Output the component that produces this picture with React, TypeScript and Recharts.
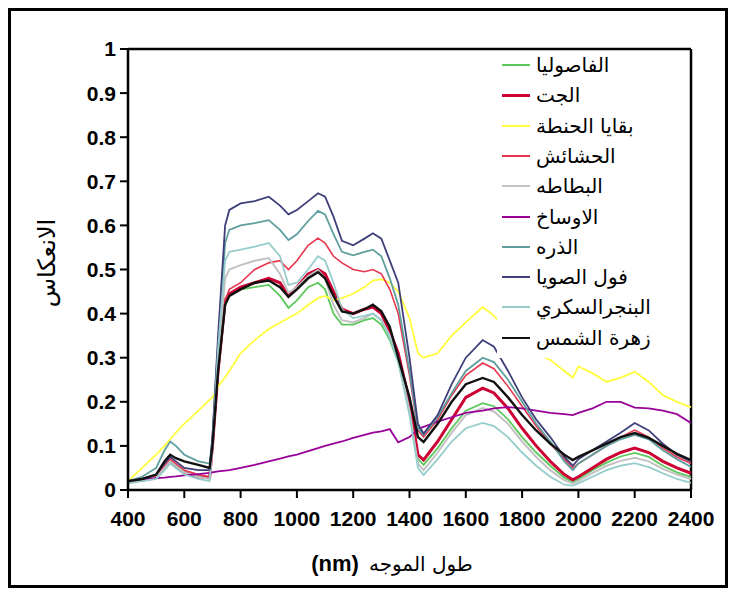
import { LineChart, Line, XAxis, YAxis, ReferenceLine } from 'recharts'

// wavelength (nm) samples shared by every curve
const WL = [400, 450, 500, 530, 550, 570, 600, 650, 690, 700, 720, 745, 760, 800, 850, 900, 940, 970, 1000, 1040,
  1075, 1100, 1130, 1160, 1200, 1240, 1270, 1300, 1330, 1360, 1400, 1430, 1450, 1500, 1550, 1600, 1660, 1700, 1750, 1800,
  1850, 1900, 1950, 1980, 2000, 2050, 2100, 2150, 2200, 2250, 2300, 2350, 2400]

const BEANS = [.02, .022, .028, .05, .065, .055, .04, .032, .028, .1, .27, .42, .44, .455, .46, .465, .44, .413, .43, .46,
  .47, .455, .4, .375, .375, .385, .39, .375, .34, .29, .18, .07, .057, .095, .14, .18, .197, .19, .16, .12,
  .085, .055, .028, .018, .025, .045, .062, .076, .084, .075, .055, .04, .03]
const JUTE = [.02, .022, .028, .05, .065, .055, .04, .03, .028, .1, .27, .43, .445, .46, .47, .48, .47, .44, .46, .49,
  .5, .49, .45, .41, .4, .41, .415, .4, .36, .31, .2, .08, .068, .11, .16, .21, .231, .22, .185, .14,
  .1, .065, .035, .023, .03, .05, .07, .085, .095, .085, .065, .05, .038]
const WHEAT = [.02, .05, .08, .1, .115, .13, .15, .18, .205, .21, .235, .255, .27, .31, .34, .365, .38, .39, .4, .42,
  .435, .44, .43, .435, .445, .46, .475, .478, .47, .45, .39, .31, .3, .31, .35, .38, .415, .395, .36, .33,
  .31, .295, .27, .255, .28, .265, .245, .255, .268, .245, .215, .2, .188]
const GRASS = [.02, .025, .03, .055, .07, .06, .045, .035, .03, .1, .28, .43, .455, .47, .5, .515, .52, .5, .52, .555,
  .571, .56, .53, .515, .5, .495, .5, .49, .455, .4, .26, .135, .12, .16, .215, .26, .288, .275, .235, .19,
  .145, .105, .07, .05, .06, .08, .1, .12, .136, .12, .095, .075, .06]
const POTATO = [.02, .022, .028, .05, .065, .055, .04, .03, .025, .1, .3, .48, .5, .51, .52, .526, .49, .447, .46, .485,
  .499, .48, .42, .385, .38, .39, .4, .385, .35, .3, .18, .06, .045, .085, .13, .17, .186, .178, .15, .11,
  .075, .045, .022, .015, .02, .038, .055, .066, .073, .065, .048, .035, .025]
const SOIL = [.02, .024, .027, .028, .03, .031, .033, .036, .039, .04, .042, .044, .045, .05, .057, .065, .071, .076, .08, .088,
  .095, .1, .105, .11, .118, .125, .13, .133, .138, .108, .12, .138, .143, .155, .165, .175, .18, .185, .188, .185,
  .18, .175, .172, .17, .175, .185, .2, .2, .187, .185, .18, .172, .152]
const CORN = [.02, .03, .05, .09, .11, .1, .08, .065, .06, .12, .33, .56, .59, .6, .605, .612, .59, .567, .58, .61,
  .633, .625, .58, .54, .532, .54, .545, .53, .48, .42, .27, .14, .125, .165, .22, .27, .3, .29, .25, .2,
  .15, .11, .065, .045, .06, .08, .1, .115, .125, .115, .09, .07, .052]
const SOY = [.02, .025, .035, .06, .075, .065, .05, .045, .045, .12, .35, .6, .635, .65, .655, .665, .645, .625, .635, .655,
  .673, .665, .62, .565, .555, .57, .582, .57, .52, .47, .3, .15, .128, .17, .24, .3, .34, .325, .27, .21,
  .16, .12, .075, .055, .07, .09, .11, .13, .152, .135, .105, .08, .065]
const BEET = [.015, .02, .025, .045, .06, .05, .035, .025, .02, .1, .32, .52, .54, .545, .552, .56, .53, .465, .47, .5,
  .53, .52, .47, .41, .39, .395, .4, .385, .345, .29, .17, .05, .034, .07, .11, .14, .152, .145, .12, .085,
  .055, .03, .012, .01, .015, .03, .045, .055, .061, .052, .038, .025, .016]
const SUNFLOWER = [.02, .025, .035, .065, .08, .072, .065, .057, .05, .1, .27, .42, .44, .455, .47, .475, .46, .438, .455, .48,
  .494, .48, .44, .405, .4, .41, .42, .405, .37, .3, .21, .12, .109, .15, .2, .24, .254, .245, .21, .17,
  .135, .105, .08, .068, .075, .09, .105, .12, .129, .118, .1, .082, .068]

const KEYS = ['beans', 'jute', 'wheat', 'grass', 'potato', 'soil', 'corn', 'soy', 'beet', 'sunflower']
const NAMES = ['الفاصوليا', 'الجت', 'بقايا الحنطة', 'الحشائش', 'البطاطه', 'الاوساخ', 'الذره', 'فول الصويا', 'البنجرالسكري', 'زهرة الشمس']
const COLORS = ['#5cc85c', '#cc0033', '#ffff3c', '#e8344c', '#c2c2c2', '#990099', '#5f9e9e', '#3f3f7a', '#96cccc', '#111111']
const WIDTHS = [1.8, 3, 1.8, 1.6, 2, 1.8, 1.8, 1.8, 1.8, 2.4]
const VALUES = [BEANS, JUTE, WHEAT, GRASS, POTATO, SOIL, CORN, SOY, BEET, SUNFLOWER]

const X_TICKS = [400, 600, 800, 1000, 1200, 1400, 1600, 1800, 2000, 2200, 2400]
const Y_TICKS = [0, 0.1, 0.2, 0.3, 0.4, 0.5, 0.6, 0.7, 0.8, 0.9, 1]

const rows = WL.map((wl, i) => {
  const r: Record<string, number> = { wl }
  KEYS.forEach((k, j) => { r[k] = VALUES[j][i] })
  return r
})

const tickStyle = { fontFamily: '"Liberation Sans", Arial, sans-serif', fontWeight: 700, fontSize: 21, fill: '#000' }
const axisLine = { stroke: '#000', strokeWidth: 2.5 }
const arabic = '"DejaVu Sans", sans-serif'

export default function App() {
  return (
    <div style={{ position: 'relative', width: 720, height: 580, border: '3px solid #000', boxSizing: 'border-box', background: '#fff' }}>
      <div style={{ position: 'absolute', left: 0, top: 0 }}>
        <LineChart width={714} height={574} data={rows} margin={{ top: 38, right: 34, bottom: 0, left: 0 }}>
          <XAxis dataKey="wl" type="number" domain={[400, 2400]} ticks={X_TICKS} interval={0}
            tick={tickStyle} tickSize={8} tickMargin={13} axisLine={axisLine} tickLine={{ stroke: '#000', strokeWidth: 2 }} height={95} />
          <YAxis type="number" domain={[0, 1]} ticks={Y_TICKS} interval={0} tick={tickStyle}
            tickSize={8} tickMargin={4} axisLine={axisLine} tickLine={{ stroke: '#000', strokeWidth: 2 }} width={117} />
          {/* box around the plot: top and right edges */}
          <ReferenceLine y={1} stroke="#000" strokeWidth={2.5} />
          <ReferenceLine x={2400} stroke="#000" strokeWidth={2.5} />
          {KEYS.map((k, i) => (
            <Line key={k} dataKey={k} name={NAMES[i]} type="linear" stroke={COLORS[i]} strokeWidth={WIDTHS[i]}
              dot={false} activeDot={false} isAnimationActive={false} />
          ))}
        </LineChart>
      </div>

      {/* legend with white box, drawn over the curves */}
      <div style={{ position: 'absolute', left: 486, top: 41, width: 188, height: 306, background: '#fff' }}>
        {NAMES.map((n, i) => (
          <div key={n} style={{ position: 'absolute', left: 0, top: i * 30.3 - 2, height: 30, display: 'flex', alignItems: 'center' }}>
            <div style={{ width: 28, marginLeft: 5, height: 0, borderTop: `${i === 1 ? 3 : 2}px solid ${COLORS[i]}` }} />
            <span style={{ marginLeft: 6, fontFamily: arabic, fontSize: 20, color: '#000', whiteSpace: 'nowrap' }}>{n}</span>
          </div>
        ))}
      </div>

      {/* y axis title */}
      <div style={{ position: 'absolute', left: 36, top: 252, transform: 'translate(-50%, -50%) rotate(-90deg)', fontFamily: arabic, fontSize: 24, whiteSpace: 'nowrap' }}>
        الانعكاس
      </div>

      {/* x axis title */}
      <div style={{ position: 'absolute', left: 381, top: 553, transform: 'translate(-50%, -50%)', display: 'flex', alignItems: 'center', whiteSpace: 'nowrap' }}>
        <span style={{ fontFamily: '"Liberation Sans", Arial, sans-serif', fontWeight: 700, fontSize: 22 }}>(nm)</span>
        <span style={{ marginLeft: 10, fontFamily: arabic, fontSize: 20 }}>طول الموجه</span>
      </div>
    </div>
  )
}
